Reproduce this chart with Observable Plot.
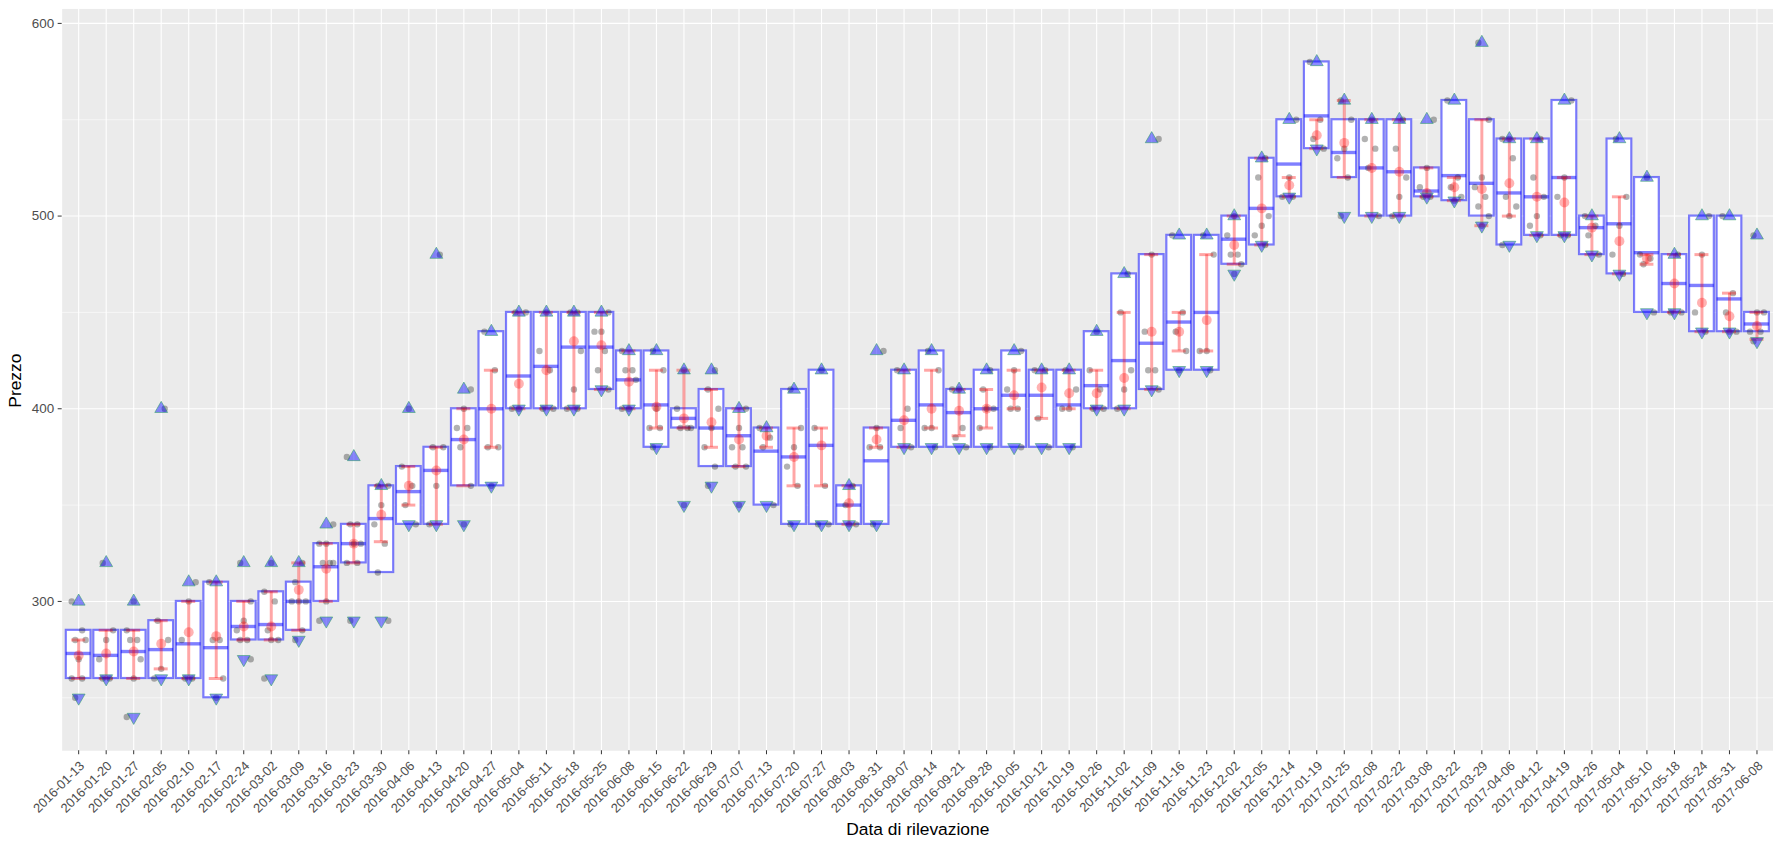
<!DOCTYPE html>
<html><head><meta charset="utf-8">
<script src="https://cdn.jsdelivr.net/npm/d3@7"></script>
<script src="https://cdn.jsdelivr.net/npm/@observablehq/plot@0.6"></script>
<style>
html,body{margin:0;padding:0;overflow:hidden;background:#fff;}
</style></head><body><div id="chart"></div>
<script>
const dates = ["2016-01-13","2016-01-20","2016-01-27","2016-02-05","2016-02-10","2016-02-17","2016-02-24","2016-03-02","2016-03-09","2016-03-16","2016-03-23","2016-03-30","2016-04-06","2016-04-13","2016-04-20","2016-04-27","2016-05-04","2016-05-11","2016-05-18","2016-05-25","2016-06-08","2016-06-15","2016-06-22","2016-06-29","2016-07-07","2016-07-13","2016-07-20","2016-07-27","2016-08-03","2016-08-31","2016-09-07","2016-09-14","2016-09-21","2016-09-28","2016-10-05","2016-10-12","2016-10-19","2016-10-26","2016-11-02","2016-11-09","2016-11-16","2016-11-23","2016-12-02","2016-12-05","2016-12-14","2017-01-19","2017-01-25","2017-02-08","2017-02-22","2017-03-08","2017-03-22","2017-03-29","2017-04-06","2017-04-12","2017-04-19","2017-04-26","2017-05-04","2017-05-10","2017-05-18","2017-05-24","2017-05-31","2017-06-08"];
const minVal = [250,260,240,260,260,250,270,260,280,290,290,290,340,340,340,360,400,400,400,410,400,380,350,360,350,350,340,340,340,340,380,380,380,380,380,380,380,400,400,410,420,420,470,485,510,535,500,500,500,510,508,495,485,490,490,480,470,450,450,440,440,435];
const maxVal = [300,320,300,400,310,310,320,320,320,340,375,360,400,480,410,440,450,450,450,450,430,430,420,420,400,390,410,420,360,430,420,430,410,420,430,420,420,440,470,540,490,490,500,530,550,580,560,550,550,550,560,590,540,540,560,500,540,520,480,500,500,490];
const boxLow = [260,260,260,260,260,250,280,280,285,300,320,315,340,340,360,360,400,400,400,410,400,380,390,370,370,350,340,340,340,340,380,380,380,380,380,380,380,400,400,410,420,420,475,485,510,535,520,500,500,510,508,500,485,490,490,480,470,450,450,440,440,440];
const boxHigh = [285,285,285,290,300,310,300,305,310,330,340,360,370,380,400,440,450,450,450,450,430,430,400,410,400,390,410,420,360,390,420,430,410,420,430,420,420,440,470,480,490,490,500,530,550,580,550,550,550,525,560,550,540,540,560,500,540,520,480,500,500,450];
const median = [273,272,274,275,278,276,287,288,300,318,330,343,357,368,384,400,417,422,432,432,415,402,395,390,386,378,375,381,350,373,394,402,398,400,407,407,402,412,425,434,445,450,488,504,527,552,533,525,523,513,521,517,512,510,520,494,496,481,465,464,457,444];
const meanVal = [272,273,274,278,284,282,287,287,306,317,330,345,360,368,384,400,413,420,435,433,414,401,395,393,384,386,375,381,351,384,394,400,399,400,407,411,408,408,416,440,440,446,485,504,516,542,538,525,523,512,515,514,517,510,507,494,487,478,465,455,448,443];
const errLow = [260,260,260,265,260,260,280,280,285,300,320,331,350,340,360,380,400,400,400,410,400,390,390,380,370,380,360,360,340,380,380,390,386,390,400,395,400,400,400,410,430,430,475,485,510,535,520,500,500,510,508,495,500,490,490,480,470,475,450,440,440,436];
const errHigh = [280,285,285,290,300,310,300,305,320,330,340,360,370,380,400,420,450,450,450,450,430,420,420,410,400,390,390,390,360,390,420,420,410,410,420,420,420,420,450,480,450,480,500,530,520,550,560,550,550,525,520,550,540,540,520,500,510,480,480,480,460,450];
const observations = [
  [300,285,280,280,270,260,260,250],[320,285,280,270,260,260],[300,285,280,280,270,260,240],[400,290,280,265,260],
  [310,300,280,260,260],[310,280,280,260,250],[320,300,290,285,280,280,270],[320,305,300,285,280,280,260],
  [320,310,300,300,300,285,280],[340,330,330,320,320,320,300,290],[375,340,340,330,330,320,320,290],[360,360,350,340,330,315,290],
  [400,370,360,350,340],[480,380,380,360,340],[410,400,390,390,380,360,340],[440,420,380,380,360],
  [450,450,400,400],[450,430,420,400,400],[450,450,430,410,400,400],[450,440,440,430,420,410],
  [430,420,420,415,400,400],[430,420,400,390,390,380],[420,400,390,390,390,350],[420,410,400,390,380,370,360],
  [400,390,380,380,370,370,350],[390,385,380,350],[410,390,380,370,360,340],[420,390,360,340,340],
  [360,350,340,340],[430,390,380,380,340],[420,400,390,380],[430,420,390,390,380],
  [410,410,390,385,380],[420,410,400,400,390,380],[430,420,410,400,400,380],[420,420,395,380],
  [420,410,400,400,380],[440,420,410,400,400],[470,450,420,410,400],[540,480,440,420,420,410],
  [490,450,440,430,420],[490,480,430,430,420],[500,490,480,480,475,470],[530,520,500,495,490,485],
  [550,520,510,510],[580,550,540,535],[560,550,535,530,520,500],[550,540,535,525,500],
  [550,535,520,510,500],[550,525,515,510,510],[560,520,515,510,508],[590,550,520,515,510,505,500,495],
  [540,540,530,510,505,500,485],[540,520,510,500,495,490],[560,520,510,490,490],[500,495,490,480],
  [540,510,495,480,470],[520,480,478,475,450],[480,450,450],[500,480,450,440],
  [500,460,450,440,440],[490,450,450,440,440,435]
];
const yTicks = [300,400,500,600];
const yMinor = [250,350,450,550];

const rows = dates.map((d, i) => ({
  date: d, min: minVal[i], max: maxVal[i], boxLow: boxLow[i], boxHigh: boxHigh[i],
  median: median[i], mean: meanVal[i], errLow: errLow[i], errHigh: errHigh[i]
}));
const points = [];
observations.forEach((arr, i) => arr.forEach((v, j) => points.push({date: dates[i], value: v, k: (j * 3 + i) % 5})));
const jitter = [-7, -3.5, 0, 3.5, 7];

const boxInset = 1.4;
const blue = "blue";
const plot = Plot.plot({
  width: 1783, height: 845,
  marginLeft: 62, marginRight: 0, marginTop: 8.5, marginBottom: 90.5,
  style: {fontFamily: "'Liberation Sans', Arial, sans-serif", fontSize: "13px", background: "white", color: "#4D4D4D", overflow: "visible"},
  x: {type: "band", domain: dates, paddingInner: 0, paddingOuter: 0.1, label: null, axis: null},
  y: {domain: [222.5, 607.5], label: null, axis: null},
  marks: [
    Plot.frame({fill: "#EBEBEB", stroke: null}),
    Plot.gridY(yMinor, {stroke: "white", strokeOpacity: 1, strokeWidth: 0.55}),
    Plot.gridY(yTicks, {stroke: "white", strokeOpacity: 1, strokeWidth: 1.1}),
    Plot.gridX(dates, {stroke: "white", strokeOpacity: 1, strokeWidth: 1.1}),
    Plot.axisY({ticks: yTicks, tickSize: 4, tickPadding: 4, label: null, color: "#333333", tickFormat: () => ""}),
    Plot.text(yTicks, {y: d => d, text: d => String(d), frameAnchor: "left", dx: -8, textAnchor: "end", fontSize: 13.5, fill: "#4D4D4D"}),
    Plot.axisX({tickSize: 4, label: null, color: "#333333", tickFormat: () => ""}),
    Plot.text(dates, {x: d => d, text: d => d, frameAnchor: "bottom", dy: 9.5, rotate: -45, textAnchor: "end", lineAnchor: "top", fontSize: 13, fill: "#4D4D4D"}),
    Plot.barY(rows, {x: "date", y1: "boxLow", y2: "boxHigh", fill: "white", stroke: blue, strokeOpacity: 0.5, strokeWidth: 2.2, insetLeft: boxInset, insetRight: boxInset}),
    Plot.tickY(rows, {x: "date", y: "median", stroke: blue, strokeOpacity: 0.5, strokeWidth: 3.4, insetLeft: boxInset, insetRight: boxInset}),
    ...jitter.map((o, k) => Plot.dot(points.filter(p => p.k === k), {x: "date", y: "value", dx: o, r: 3.2, fill: "black", fillOpacity: 0.3, stroke: null})),
    Plot.ruleX(rows, {x: "date", y1: "errLow", y2: "errHigh", stroke: "red", strokeOpacity: 0.35, strokeWidth: 3}),
    Plot.tickY(rows, {x: "date", y: "errLow", stroke: "red", strokeOpacity: 0.35, strokeWidth: 3, inset: 6.8}),
    Plot.tickY(rows, {x: "date", y: "errHigh", stroke: "red", strokeOpacity: 0.35, strokeWidth: 3, inset: 6.8}),
    Plot.dot(rows, {x: "date", y: "mean", r: 5, fill: "red", fillOpacity: 0.3, stroke: null}),
    Plot.dot(rows, {x: "date", y: "max", symbol: "triangle", r: 4.8, fill: blue, fillOpacity: 0.45, stroke: "#2ca25f", strokeOpacity: 0.55, strokeWidth: 1}),
    Plot.dot(rows, {x: "date", y: "min", symbol: "triangle", rotate: 180, r: 4.8, fill: blue, fillOpacity: 0.45, stroke: "#2ca25f", strokeOpacity: 0.55, strokeWidth: 1}),
    Plot.text(["Data di rilevazione"], {text: d => d, frameAnchor: "bottom", dy: 85, fontSize: 17.5, fill: "black"}),
    Plot.text(["Prezzo"], {text: d => d, frameAnchor: "left", dx: -47, dy: 28, rotate: -90, fontSize: 17.5, fill: "black"})
  ]
});
document.getElementById("chart").appendChild(plot);
</script>
</body></html>
